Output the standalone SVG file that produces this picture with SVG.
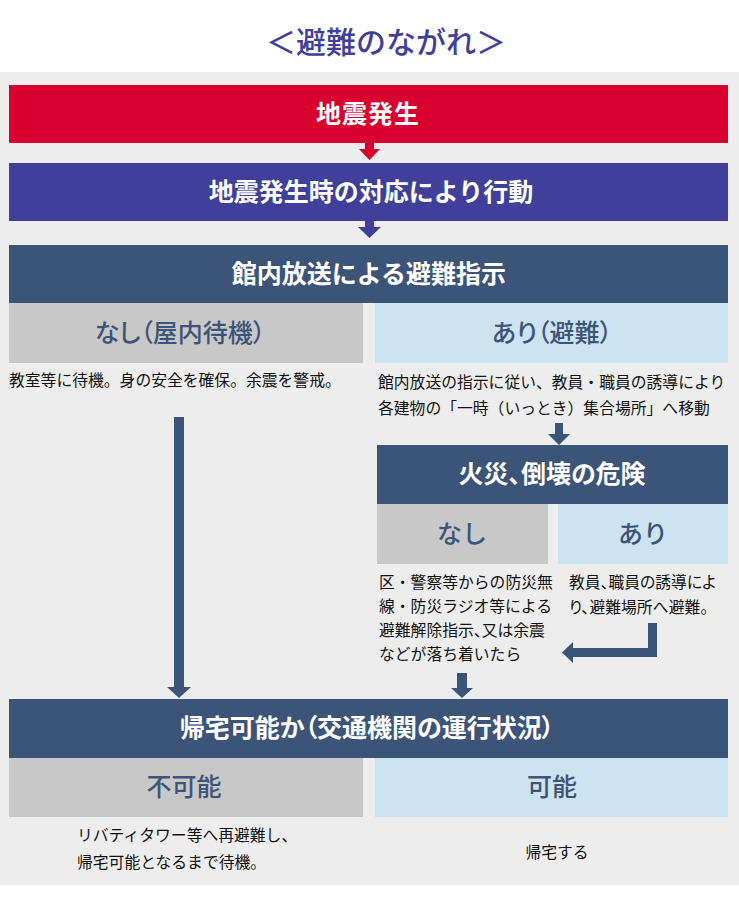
<svg xmlns="http://www.w3.org/2000/svg" width="739" height="915" viewBox="0 0 739 915">
<style>
text{font-family:"Noto Sans CJK JP","Noto Sans",sans-serif;}
.hd{fill:#ffffff;font-size:25px;font-weight:700;text-anchor:middle;}
.lb{fill:#3d5479;font-size:25px;font-weight:500;text-anchor:middle;}
.bd{fill:#111111;font-size:15.8px;font-weight:400;}
.pt{font-feature-settings:"palt";}
.dk{fill:#3d5479;}
.gy{fill:#c8c8c8;}
.lt{fill:#cce3f0;}
</style>
<rect x="0" y="0" width="739" height="915" fill="#ffffff"/>
<rect x="0" y="72" width="739" height="813" fill="#ededed"/>
<g id="title">
<text x="386" y="53" font-size="30" font-weight="500" fill="#40409a" text-anchor="middle">＜避難のながれ＞</text>
</g>
<g id="n-quake">
<rect x="9" y="85" width="719" height="58" fill="#d7002e"/>
<text class="hd" x="368" y="123" letter-spacing="1">地震発生</text>
</g>
<g id="n-act">
<rect x="9" y="163" width="719" height="58" fill="#40409a"/>
<text class="hd" x="371" y="201">地震発生時の対応により行動</text>
</g>
<g id="n-broadcast">
<rect class="dk" x="9" y="245" width="719" height="58"/>
<text class="hd" x="369" y="283">館内放送による避難指示</text>
</g>
<g id="n-stay">
<rect class="gy" x="9" y="303" width="354" height="60"/>
<text class="lb pt" x="180" y="342">なし（屋内待機）</text>
<text class="bd" x="9" y="386">教室等に待機。身の安全を確保。余震を警戒。</text>
</g>
<g id="n-evac">
<rect class="lt" x="375" y="303" width="353" height="60"/>
<text class="lb pt" x="552" y="342">あり（避難）</text>
<text class="bd" x="378" y="388">館内放送の指示に従い、教員・職員の誘導により</text>
<text class="bd" x="378" y="414">各建物の「一時（いっとき）集合場所」へ移動</text>
</g>
<g id="n-danger">
<rect class="dk" x="377" y="445" width="351" height="59"/>
<text class="hd pt" x="552" y="483">火災、倒壊の危険</text>
</g>
<g id="n-danger-no">
<rect class="gy" x="377" y="504" width="171" height="60"/>
<text class="lb" x="462" y="543">なし</text>
<text class="bd" x="379" y="588">区・警察等からの防災無</text>
<text class="bd" x="379" y="612">線・防災ラジオ等による</text>
<text class="bd pt" x="379" y="636">避難解除指示、又は余震</text>
<text class="bd" x="379" y="660">などが落ち着いたら</text>
</g>
<g id="n-danger-yes">
<rect class="lt" x="558" y="504" width="170" height="60"/>
<text class="lb" x="643" y="543">あり</text>
<text class="bd pt" x="569" y="588">教員、職員の誘導によ</text>
<text class="bd pt" x="569" y="613">り、避難場所へ避難。</text>
</g>
<g id="n-home">
<rect class="dk" x="9" y="699" width="719" height="59"/>
<text class="hd pt" x="367" y="737">帰宅可能か（交通機関の運行状況）</text>
</g>
<g id="n-impossible">
<rect class="gy" x="9" y="758" width="354" height="59"/>
<text class="lb" x="184" y="796">不可能</text>
<text class="bd" x="77" y="841">リバティタワー等へ再避難し、</text>
<text class="bd" x="77" y="868">帰宅可能となるまで待機。</text>
</g>
<g id="n-possible">
<rect class="lt" x="375" y="758" width="353" height="59"/>
<text class="lb" x="552" y="796">可能</text>
<text class="bd" x="557" y="858" text-anchor="middle">帰宅する</text>
</g>
<g id="connectors">
<polygon fill="#d7002e" points="365,143 374,143 374,149 380,149 369.5,160 359,149 365,149"/>
<polygon fill="#40409a" points="365,221 374,221 374,227 381,227 369.5,238 358,227 365,227"/>
<polygon class="dk" points="174,417 184,417 184,687 191,687 179,698 167,687 174,687"/>
<polygon class="dk" points="555,423 563,423 563,434 570,434 559,445 548,434 555,434"/>
<polygon class="dk" points="648,623 657,623 657,657 573,657 573,663 562,652.5 573,642 573,648 648,648"/>
<polygon class="dk" points="457,673 467,673 467,688 473,688 462,698 451,688 457,688"/>
</g>
</svg>
